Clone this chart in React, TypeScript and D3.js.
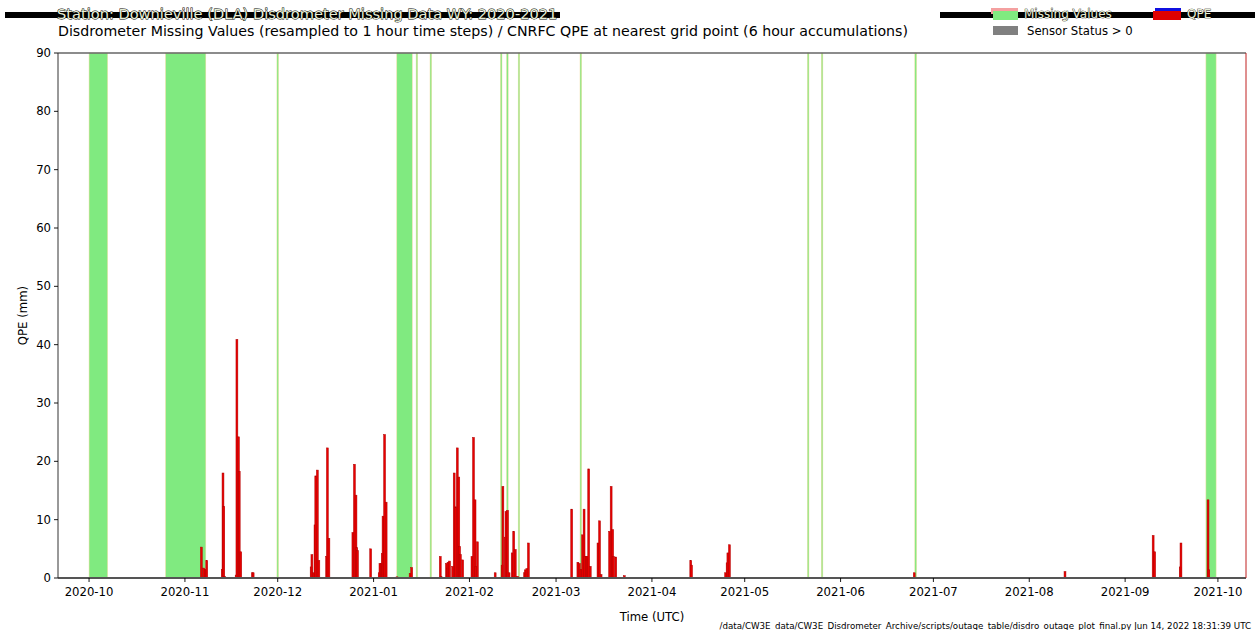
import React from "react";
import * as d3 from "d3";

const W = 1255;
const H = 630;
const M = { left: 58, right: 1246, top: 53, bottom: 578 };

const titleLine1 = "Station: Downieville (DLA) Disdrometer Missing Data   WY: 2020-2021";
const titleLine2 =
  "Disdrometer Missing Values (resampled to 1 hour time steps) / CNRFC QPE at nearest grid point (6 hour accumulations)";
const footnote =
  "/data/CW3E_data/CW3E_Disdrometer_Archive/scripts/outage_table/disdro_outage_plot_final.py    Jun 14, 2022 18:31:39 UTC";

const xDomain = ["2020-09-20T23", "2021-10-10T02"];
const yTicks = [0, 10, 20, 30, 40, 50, 60, 70, 80, 90];
const monthTicks = [
  "2020-10", "2020-11", "2020-12", "2021-01", "2021-02", "2021-03", "2021-04",
  "2021-05", "2021-06", "2021-07", "2021-08", "2021-09", "2021-10",
];

// CNRFC QPE, 6-hour accumulations (start time, mm)
const qpeTimes = [
  "2020-11-06T00", "2020-11-06T18", "2020-11-07T06", "2020-11-07T18", "2020-11-12T18", "2020-11-13T00",
  "2020-11-13T06", "2020-11-13T12", "2020-11-17T06", "2020-11-17T12", "2020-11-18T00", "2020-11-18T06",
  "2020-11-18T18", "2020-11-22T12", "2020-11-22T18",
  "2020-12-11T12", "2020-12-11T18", "2020-12-12T06", "2020-12-12T18", "2020-12-13T00", "2020-12-13T12",
  "2020-12-14T00", "2020-12-16T12", "2020-12-16T18", "2020-12-17T06", "2020-12-25T00", "2020-12-25T12",
  "2020-12-26T00", "2020-12-26T06", "2020-12-26T12", "2020-12-30T18",
  "2021-01-02T12", "2021-01-02T18", "2021-01-03T06", "2021-01-03T12", "2021-01-03T18", "2021-01-04T06",
  "2021-01-04T18", "2021-01-08T06", "2021-01-12T12", "2021-01-13T00", "2021-01-22T06", "2021-01-22T12",
  "2021-01-24T06", "2021-01-24T12", "2021-01-24T18", "2021-01-25T06", "2021-01-26T06", "2021-01-26T18",
  "2021-01-27T06", "2021-01-27T18", "2021-01-28T06", "2021-01-28T12", "2021-01-28T18", "2021-01-29T12",
  "2021-02-01T12", "2021-02-02T00", "2021-02-02T12", "2021-02-02T18", "2021-02-03T06", "2021-02-09T00",
  "2021-02-11T06", "2021-02-11T12", "2021-02-12T06", "2021-02-12T12", "2021-02-13T00", "2021-02-13T12",
  "2021-02-14T12", "2021-02-15T00", "2021-02-15T12", "2021-02-16T06", "2021-02-18T12", "2021-02-18T18",
  "2021-02-19T06", "2021-02-19T18",
  "2021-03-05T18", "2021-03-07T18", "2021-03-08T06", "2021-03-08T18", "2021-03-09T06", "2021-03-09T18",
  "2021-03-10T00", "2021-03-10T12", "2021-03-10T18", "2021-03-11T06", "2021-03-11T18", "2021-03-14T06",
  "2021-03-14T18", "2021-03-15T06", "2021-03-18T00", "2021-03-18T12", "2021-03-19T00", "2021-03-19T06",
  "2021-03-20T00", "2021-03-22T18",
  "2021-04-13T06", "2021-04-13T12", "2021-04-24T12", "2021-04-25T00", "2021-04-25T06", "2021-04-25T18",
  "2021-06-24T12", "2021-08-12T06", "2021-09-09T18", "2021-09-10T06", "2021-09-18T12", "2021-09-18T18",
  "2021-09-27T12", "2021-09-27T18",
];
const qpeValues = [
  5.3, 1.7, 1.5, 3.0, 1.5, 18.0,
  12.3, 0.3, 0.5, 40.9, 24.2, 18.3,
  4.5, 0.9, 0.9,
  1.9, 4.0, 0.9, 9.1, 17.5, 18.5,
  3.0, 3.7, 22.3, 6.8, 7.8, 19.5,
  14.2, 5.2, 4.7, 5.0,
  0.9, 2.5, 2.5, 4.2, 10.6, 24.6,
  13.0, 0.2, 0.8, 1.8, 3.7, 0.3,
  2.5, 1.7, 2.7, 2.9, 2.0, 18.0,
  12.2, 22.3, 17.3, 5.4, 4.0, 3.1,
  3.7, 24.1, 13.4, 2.0, 6.2, 0.9,
  2.2, 15.7, 7.0, 11.4, 11.6, 0.9,
  4.3, 8.0, 4.9, 0.3, 0.9, 1.4,
  1.6, 6.0,
  11.8, 2.7, 2.5, 1.5, 7.4, 11.8,
  3.7, 3.7, 3.7, 18.7, 2.0, 6.0,
  9.8, 0.6, 8.0, 15.7, 8.3, 3.7,
  3.6, 0.4,
  3.0, 2.2, 0.9, 2.6, 4.3, 5.7,
  0.9, 1.1, 7.3, 4.5, 1.9, 6.0,
  13.4, 1.4,
];

// Disdrometer missing-value periods
const missingStart = [
  "2020-10-01T00", "2020-10-25T18", "2020-11-30T18", "2021-01-08T12", "2021-01-14T18", "2021-01-19T06",
  "2021-02-11T00", "2021-02-13T00", "2021-02-16T18", "2021-03-08T18", "2021-05-21T06", "2021-05-25T18",
  "2021-06-25T00", "2021-09-27T03",
];
const missingEnd = [
  "2020-10-07T00", "2020-11-07T18", "2020-12-01T00", "2021-01-13T12", "2021-01-15T00", "2021-01-19T18",
  "2021-02-11T06", "2021-02-13T12", "2021-02-17T00", "2021-03-09T00", "2021-05-21T18", "2021-05-26T00",
  "2021-06-25T14", "2021-09-30T10",
];

const parseHour = d3.utcParse("%Y-%m-%dT%H");
const parseMonth = d3.utcParse("%Y-%m");
const fmtMonth = d3.utcFormat("%Y-%m");
const FONT = "DejaVu Sans, Verdana, sans-serif";

export default function App() {
  const x = d3
    .scaleUtc()
    .domain(xDomain.map((s) => parseHour(s) as Date))
    .range([M.left, M.right]);
  const y = d3.scaleLinear().domain([0, 90]).range([M.bottom, M.top]);

  const sixH = 6 * 3600 * 1000;
  const bars = qpeTimes.map((t, i) => {
    const d = parseHour(t) as Date;
    const x0 = x(d);
    const x1 = x(new Date(d.getTime() + sixH));
    return { x0, w: Math.max(x1 - x0, 1.9), y: y(qpeValues[i]), v: qpeValues[i] };
  });

  const spans = missingStart.map((s, i) => {
    const a = x(parseHour(s) as Date);
    const b = x(parseHour(missingEnd[i]) as Date);
    const w = Math.max(b - a, 1.6);
    return { a, w };
  });

  const months = monthTicks.map((m) => parseMonth(m) as Date);

  return (
    <svg
      width={W}
      height={H}
      style={{ position: "absolute", left: 0, top: 0, background: "#fff" }}
      fontFamily={FONT}
    >
      <rect x={0} y={0} width={W} height={H} fill="#fff" />

      {/* title band artefacts */}
      <rect x={5} y={12} width={555} height={6} fill="#000" />
      <rect x={940} y={12} width={315} height={6} fill="#000" />

      <text x={57} y={19} fontSize={14.6} fill="#e8efd8" stroke="#000" strokeWidth={0.9} paintOrder="stroke">
        {titleLine1}
      </text>
      <text x={58} y={35.5} fontSize={14.2} fill="#000">
        {titleLine2}
      </text>

      {/* legend */}
      <rect x={991} y={8} width={27} height={6} fill="#f4a0a0" />
      <rect x={993} y={11} width={25} height={9} fill="#80ea80" />
      <text x={1024} y={18} fontSize={12} fill="#e8efd8" stroke="#000" strokeWidth={0.7} paintOrder="stroke">
        Missing Values
      </text>
      <rect x={1155} y={8} width={26} height={4} fill="#1010e0" />
      <rect x={1153} y={11} width={28} height={9} fill="#e00000" />
      <text x={1187} y={18} fontSize={12} fill="#e8efd8" stroke="#000" strokeWidth={0.7} paintOrder="stroke">
        QPE
      </text>
      <rect x={993} y={26} width={25} height={9} fill="#808080" />
      <text x={1027} y={35} fontSize={11.7} fill="#000">
        Sensor Status &gt; 0
      </text>

      {/* missing value spans */}
      {spans.map((s, i) => (
        <rect
          key={"m" + i}
          x={s.a}
          y={M.top}
          width={s.w}
          height={M.bottom - M.top}
          fill="#80ea80"
          stroke="#f0dca0"
          strokeWidth={0.5}
        />
      ))}

      {/* QPE bars */}
      {bars.map((b, i) => (
        <rect
          key={"b" + i}
          x={b.x0}
          y={b.y}
          width={b.w}
          height={M.bottom - b.y}
          fill="#e80000"
          stroke="#b00000"
          strokeWidth={0.5}
        />
      ))}

      {/* spines */}
      <line x1={M.left} x2={M.right} y1={M.top} y2={M.top} stroke="#666" strokeWidth={1.6} />
      <line x1={M.left} x2={M.right} y1={M.bottom} y2={M.bottom} stroke="#555" strokeWidth={1.8} />
      <line x1={M.left} x2={M.left} y1={M.top} y2={M.bottom} stroke="#333" strokeWidth={1} />
      <line x1={M.right} x2={M.right} y1={M.top} y2={M.bottom} stroke="#c02020" strokeWidth={1} />

      {/* y axis */}
      {yTicks.map((t) => (
        <g key={"y" + t}>
          <line x1={M.left - 4} x2={M.left} y1={y(t)} y2={y(t)} stroke="#000" strokeWidth={0.9} />
          <text x={M.left - 7} y={y(t)} dy="0.35em" textAnchor="end" fontSize={11.7} fill="#000">
            {t}
          </text>
        </g>
      ))}
      <text
        transform={`translate(${27},${(M.top + M.bottom) / 2}) rotate(-90)`}
        textAnchor="middle"
        fontSize={11.7}
        fill="#000"
      >
        QPE (mm)
      </text>

      {/* x axis */}
      {months.map((m, i) => (
        <g key={"x" + i}>
          <line x1={x(m)} x2={x(m)} y1={M.bottom} y2={M.bottom + 4} stroke="#000" strokeWidth={0.9} />
          <text x={x(m)} y={M.bottom + 18} textAnchor="middle" fontSize={11.7} fill="#000">
            {fmtMonth(m)}
          </text>
        </g>
      ))}
      <text x={(M.left + M.right) / 2} y={621} textAnchor="middle" fontSize={11.7} fill="#000">
        Time (UTC)
      </text>

      <text x={1251} y={629} textAnchor="end" fontSize={8.7} fill="#000">
        {footnote}
      </text>
    </svg>
  );
}
